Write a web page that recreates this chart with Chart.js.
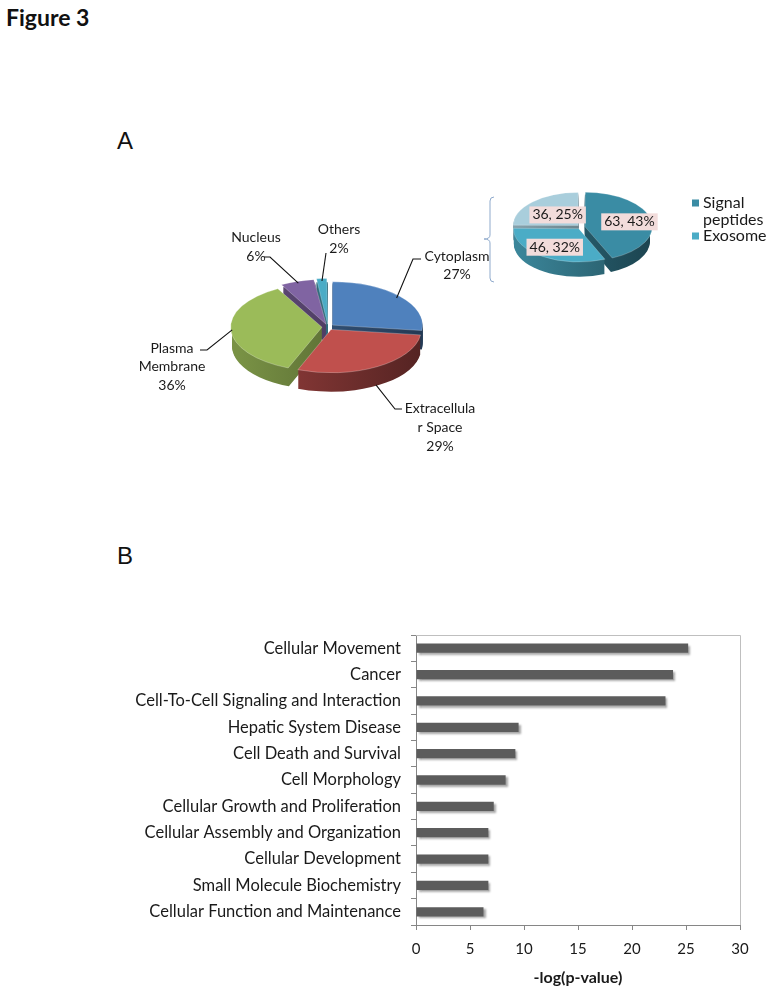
<!DOCTYPE html>
<html>
<head>
<meta charset="utf-8">
<title>Figure 3</title>
<script src="https://cdn.jsdelivr.net/npm/chart.js@4.4.1/dist/chart.umd.min.js"></script>
<style>
  html, body { margin: 0; padding: 0; background: #fff; }
  body { position: relative; width: 774px; height: 995px; overflow: hidden; }
  .txt { position: absolute; color: #111; white-space: nowrap; }
  #figTitle { left: 6px; top: 5px; font: bold 23px Lato, sans-serif; line-height: 24px; }
  .panel { font: 24px "Liberation Sans", Arial, sans-serif; line-height: 24px; }
  canvas { position: absolute; left: 0; }
</style>
</head>
<body>
<div class="txt" id="figTitle">Figure 3</div>
<div class="txt panel" style="left:117px; top:129px;">A</div>
<div class="txt panel" style="left:117px; top:544px;">B</div>
<canvas id="pieMain" width="774" height="500" style="top:0"></canvas>
<canvas id="pieSub" width="774" height="500" style="top:0"></canvas>
<canvas id="barChart" width="774" height="395" style="top:600px"></canvas>
<script>
Chart.defaults.font.family = 'Lato, "Open Sans", sans-serif';
Chart.defaults.color = '#1a1a1a';

// ---- Panel A: subcellular location (%) ----
const locationLabels = ['Cytoplasm', 'Extracellular Space', 'Plasma Membrane', 'Nucleus', 'Others'];
const locationPercents = [27, 29, 36, 6, 2];
const locationColors = ['#4F81BD', '#C0504D', '#9BBB59', '#8064A2', '#4BACC6'];
// names are broken over lines like in the figure
const locationLabelLines = [['Cytoplasm'], ['Extracellula', 'r Space'], ['Plasma', 'Membrane'], ['Nucleus'], ['Others']];

// ---- Cytoplasm breakdown (count, share) ----
const cytoLabels = ['Signal peptides', 'Exosome', 'Other'];
const cytoCounts = [63, 46, 36];
const cytoColors = ['#3A8CA4', '#4BACC6', '#A9CEDC'];

// ---- Panel B: functions ----
const functionLabels = [
    'Cellular Movement',
    'Cancer',
    'Cell-To-Cell Signaling and Interaction',
    'Hepatic System Disease',
    'Cell Death and Survival',
    'Cell Morphology',
    'Cellular Growth and Proliferation',
    'Cellular Assembly and Organization',
    'Cellular Development',
    'Small Molecule Biochemistry',
    'Cellular Function and Maintenance'
];
const functionScores = [25.2, 23.8, 23.1, 9.5, 9.2, 8.3, 7.2, 6.7, 6.7, 6.7, 6.25];

function shade(hex, f) {
    const n = parseInt(hex.slice(1), 16);
    const r = Math.round(((n >> 16) & 255) * f);
    const g = Math.round(((n >> 8) & 255) * f);
    const b = Math.round((n & 255) * f);
    return `rgb(${r},${g},${b})`;
}

// centre of an exploded slice (unscaled coords)
function sliceOrigin(arc) {
    const mid = (arc.startAngle + arc.endAngle) / 2;
    const off = (arc.options.offset || 0) / 4;
    return { x: arc.x + Math.cos(mid) * off, y: arc.y + Math.sin(mid) * off, mid };
}

// point on a slice, in screen coords, after the tilt
function slicePoint(arc, reach, squash) {
    const p = sliceOrigin(arc);
    const r = arc.outerRadius * reach;
    const ux = p.x + Math.cos(p.mid) * r;
    const uy = p.y + Math.sin(p.mid) * r;
    return { x: ux, y: arc.y + (uy - arc.y) * squash };
}

// tilt the pie and give it a side wall
const pie3d = {
    id: 'pie3d',
    beforeDatasetsDraw(chart, args, opts) {
        const ctx = chart.ctx;
        const arcs = chart.getDatasetMeta(0).data;
        const colors = chart.data.datasets[0].backgroundColor;
        const cx = arcs[0].x, cy = arcs[0].y, s = opts.squash;
        const r = arcs[0].outerRadius;
        ctx.save();
        ctx.translate(cx, cy);
        ctx.scale(1, s);
        ctx.translate(-cx, -cy);
        const fills = colors.map(c => {
            const g = ctx.createLinearGradient(cx - r, 0, cx + r, 0);
            g.addColorStop(0, shade(c, opts.light));
            g.addColorStop(1, shade(c, opts.dark));
            return g;
        });
        for (let k = opts.depth; k > 0; k--) {
            arcs.forEach((arc, i) => {
                const p = sliceOrigin(arc);
                const y = p.y + k / s;
                ctx.beginPath();
                ctx.moveTo(p.x, y);
                ctx.arc(p.x, y, arc.outerRadius, arc.startAngle, arc.endAngle);
                ctx.closePath();
                ctx.fillStyle = fills[i];
                ctx.fill();
            });
        }
    },
    afterDatasetsDraw(chart) {
        chart.ctx.restore();
    }
};

// leader lines + category labels of the big pie
const callouts = {
    id: 'callouts',
    afterDraw(chart, args, opts) {
        const ctx = chart.ctx;
        const arcs = chart.getDatasetMeta(0).data;
        const values = chart.data.datasets[0].data;
        const total = values.reduce((a, b) => a + b, 0);
        ctx.save();
        ctx.font = opts.font;
        ctx.fillStyle = '#1a1a1a';
        ctx.strokeStyle = '#111';
        ctx.lineWidth = 1.1;
        ctx.textAlign = 'center';
        ctx.textBaseline = 'middle';
        arcs.forEach((arc, i) => {
            const c = opts.items[i];
            const p = slicePoint(arc, c.reach, opts.squash);
            ctx.beginPath();
            ctx.moveTo(p.x, p.y + (c.drop || 0));
            c.path.forEach(pt => ctx.lineTo(pt[0], pt[1]));
            ctx.stroke();
            const lines = locationLabelLines[i].concat(Math.round(values[i] / total * 100) + '%');
            lines.forEach((t, j) => ctx.fillText(t, c.text[0], c.text[1] + j * c.lh));
        });
        ctx.restore();
    }
};

// boxed "count, share" labels + legend + brace of the small pie
const subLabels = {
    id: 'subLabels',
    afterDraw(chart, args, opts) {
        const ctx = chart.ctx;
        const arcs = chart.getDatasetMeta(0).data;
        const values = chart.data.datasets[0].data;
        const total = values.reduce((a, b) => a + b, 0);
        ctx.save();
        ctx.font = opts.font;
        ctx.textAlign = 'center';
        ctx.textBaseline = 'middle';
        arcs.forEach((arc, i) => {
            const p = slicePoint(arc, opts.reach[i], opts.squash);
            const t = values[i] + ', ' + Math.round(values[i] / total * 100) + '%';
            const w = ctx.measureText(t).width + 6;
            ctx.fillStyle = '#F2DCDB';
            ctx.fillRect(p.x - w / 2, p.y - 8.5, w, 17);
            ctx.fillStyle = '#1a1a1a';
            ctx.fillText(t, p.x, p.y);
        });

        // legend (only the first two series are listed in the figure)
        const lg = opts.legend;
        let y = lg.y;
        ctx.font = lg.font;
        ctx.textAlign = 'left';
        for (let i = 0; i < lg.count; i++) {
            const words = chart.data.labels[i].split(' ');
            const lines = [];
            let cur = '';
            words.forEach(wd => {
                const test = cur ? cur + ' ' + wd : wd;
                if (cur && ctx.measureText(test).width > lg.maxWidth) { lines.push(cur); cur = wd; }
                else cur = test;
            });
            lines.push(cur);
            ctx.fillStyle = chart.data.datasets[0].backgroundColor[i];
            ctx.fillRect(lg.x, y - lg.box / 2, lg.box, lg.box);
            ctx.fillStyle = '#1a1a1a';
            lines.forEach(l => { ctx.fillText(l, lg.x + lg.box + 4, y); y += lg.lineH; });
        }

        // brace linking the Cytoplasm slice to this pie
        const b = opts.brace, w = 4;
        ctx.strokeStyle = '#8FAACC';
        ctx.lineWidth = 1;
        ctx.beginPath();
        ctx.moveTo(b.x + w, b.top);
        ctx.quadraticCurveTo(b.x, b.top, b.x, b.top + w);
        ctx.lineTo(b.x, b.mid - w);
        ctx.quadraticCurveTo(b.x, b.mid, b.x - 6, b.mid);
        ctx.quadraticCurveTo(b.x, b.mid, b.x, b.mid + w);
        ctx.lineTo(b.x, b.bot - w);
        ctx.quadraticCurveTo(b.x, b.bot, b.x + w, b.bot);
        ctx.stroke();
        ctx.restore();
    }
};

new Chart(document.getElementById('pieMain'), {
    type: 'pie',
    data: {
        labels: locationLabels,
        datasets: [{
            data: locationPercents,
            backgroundColor: locationColors,
            borderColor: 'rgba(255,255,255,0.35)',
            borderWidth: 1,
            offset: 24,
            radius: 90
        }]
    },
    options: {
        responsive: false,
        animation: false,
        events: [],
        layout: { padding: { left: 208, right: 326, top: 207, bottom: 53 } },
        plugins: {
            legend: { display: false },
            tooltip: { enabled: false },
            pie3d: { squash: 0.48, depth: 19, light: 0.78, dark: 0.45 },
            callouts: {
                squash: 0.48,
                font: '14px Lato, sans-serif',
                items: [
                    { reach: 0.95, path: [[413, 259], [421, 259]], text: [457, 256], lh: 18 },
                    { reach: 0.98, drop: 19, path: [[395, 409], [402, 409]], text: [440, 408], lh: 19 },
                    { reach: 1.0, path: [[207, 350], [200, 350]], text: [172, 348], lh: 18.5 },
                    { reach: 1.0, path: [[270, 257], [264, 257]], text: [256, 237], lh: 19 },
                    { reach: 1.0, path: [[326, 253]], text: [339, 229], lh: 19 }
                ]
            }
        }
    },
    plugins: [pie3d, callouts]
});

new Chart(document.getElementById('pieSub'), {
    type: 'pie',
    data: {
        labels: cytoLabels,
        datasets: [{
            data: cytoCounts,
            backgroundColor: cytoColors,
            borderColor: 'rgba(255,255,255,0.3)',
            borderWidth: 1,
            offset: 16,
            radius: 65
        }]
    },
    options: {
        responsive: false,
        animation: false,
        events: [],
        layout: { padding: { left: 501, right: 113, top: 147, bottom: 193 } },
        plugins: {
            legend: { display: false },
            tooltip: { enabled: false },
            pie3d: { squash: 0.51, depth: 15, light: 0.78, dark: 0.5 },
            subLabels: {
                squash: 0.51,
                reach: [0.7, 0.67, 0.45],
                font: '14px Lato, sans-serif',
                legend: { x: 692, y: 203, box: 7, lineH: 16.5, maxWidth: 60, count: 2, font: '16px Lato, sans-serif' },
                brace: { x: 490, top: 197, mid: 239, bot: 282 }
            }
        }
    },
    plugins: [pie3d, subLabels]
});

// ---- Panel B ----
const barShadow = {
    id: 'barShadow',
    beforeDatasetsDraw(chart) {
        const ctx = chart.ctx;
        ctx.save();
        ctx.shadowColor = 'rgba(0,0,0,0.35)';
        ctx.shadowOffsetX = 2;
        ctx.shadowOffsetY = 2;
        ctx.shadowBlur = 2;
    },
    afterDatasetsDraw(chart) {
        chart.ctx.restore();
    }
};

const plotFrame = {
    id: 'plotFrame',
    afterDraw(chart) {
        const { ctx, chartArea: a } = chart;
        ctx.save();
        ctx.strokeStyle = '#BFBFBF';
        ctx.lineWidth = 1;
        ctx.beginPath();
        ctx.moveTo(a.left, a.top + 0.5);
        ctx.lineTo(a.right + 0.5, a.top + 0.5);
        ctx.lineTo(a.right + 0.5, a.bottom);
        ctx.stroke();
        ctx.restore();
    }
};

new Chart(document.getElementById('barChart'), {
    type: 'bar',
    data: {
        labels: functionLabels,
        datasets: [{
            data: functionScores,
            backgroundColor: '#5C5C5C',
            barPercentage: 0.9,
            categoryPercentage: 0.39
        }]
    },
    options: {
        responsive: false,
        animation: false,
        events: [],
        indexAxis: 'y',
        layout: { padding: { left: 0, right: 34, top: 35, bottom: 0 } },
        plugins: {
            legend: { display: false },
            tooltip: { enabled: false }
        },
        scales: {
            x: {
                min: 0,
                max: 30,
                ticks: { stepSize: 5, padding: 10, font: { size: 15 }, color: '#1a1a1a' },
                grid: { drawOnChartArea: false, tickLength: 5, color: '#868686' },
                border: { color: '#868686' },
                title: {
                    display: true,
                    text: '-log(p-value)',
                    color: '#1a1a1a',
                    font: { size: 16, weight: 'bold' },
                    padding: { top: 4, bottom: 8 }
                },
                afterFit(scale) { scale.height = 70; }
            },
            y: {
                ticks: { padding: 10, font: { size: 16.5 }, color: '#1a1a1a' },
                grid: { drawOnChartArea: false, tickLength: 5, color: '#868686', offset: true },
                border: { color: '#868686' },
                afterFit(scale) { scale.width = 416; }
            }
        }
    },
    plugins: [barShadow, plotFrame]
});
</script>
</body>
</html>
